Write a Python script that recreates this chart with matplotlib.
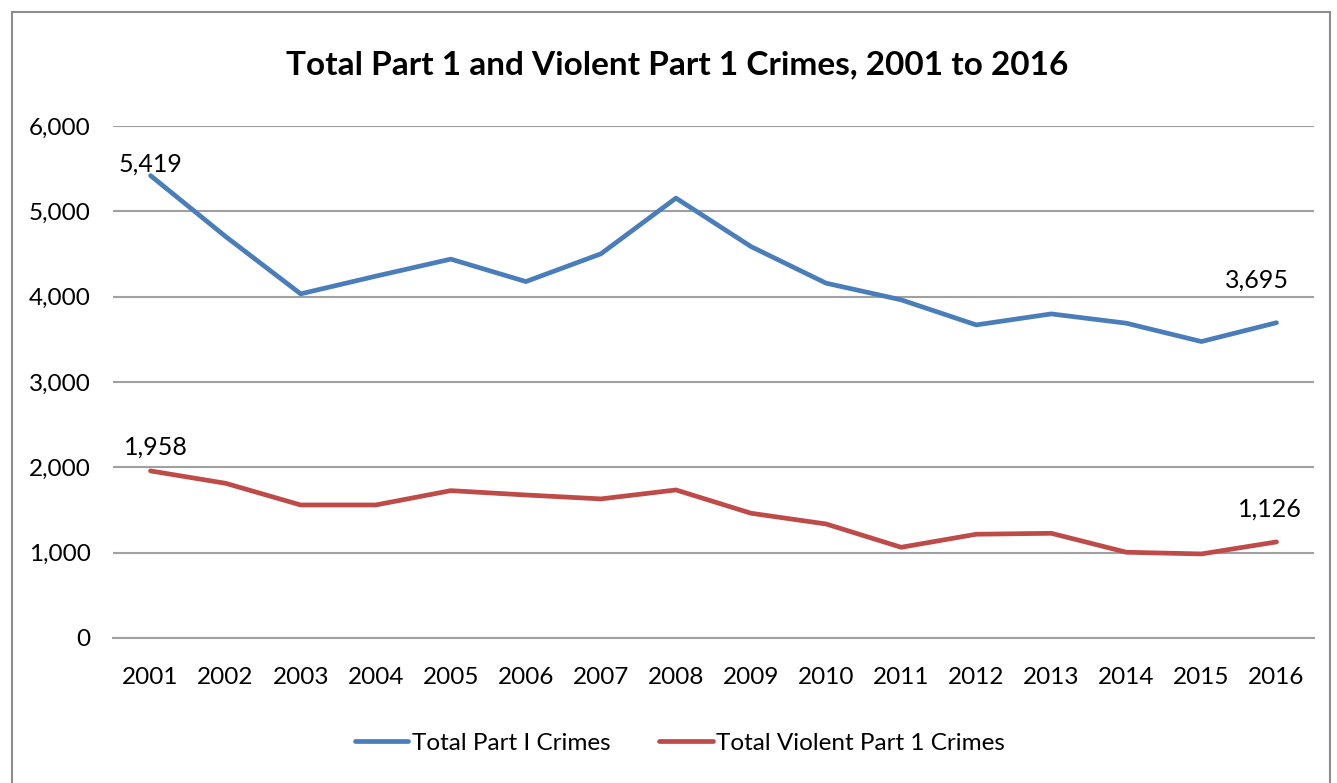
""" Total Part 1 and Violent Part 1 crimes, 2001 to 2016. """

import matplotlib
matplotlib.use("Agg")
import matplotlib.pyplot as plt
from matplotlib.patches import Rectangle
from matplotlib.ticker import FuncFormatter


""" DATA """
years = [str(y) for y in range(2001, 2017)]
total_part1 = [5419, 4705, 4033, 4240, 4440, 4177, 4502, 5155,
               4587, 4158, 3963, 3669, 3798, 3689, 3474, 3695]
violent_part1 = [1958, 1813, 1559, 1559, 1727, 1676, 1630, 1735,
                 1462, 1336, 1063, 1216, 1227, 1005, 985, 1126]
series_names = ["Total Part I Crimes", "Total Violent Part 1 Crimes"]


""" STYLE """
plt.rcParams['font.family'] = ['Lato', 'DejaVu Sans']
BLUE = "#4a7ebb"
RED = "#be4b48"
GRID = "#a0a0a0"

W, H = 1337, 783
fig = plt.figure(figsize=(W / 100, H / 100), dpi=100)

# Outer chart border
fig.patches.append(Rectangle((12 / W, -0.1), (1330 - 12) / W, 1.1 - 12 / H,
                             transform=fig.transFigure, fill=False,
                             edgecolor="#8c8c8c", linewidth=1.5))

# Plot area in pixel terms
left, right, top, bottom = 113, 1314, 126, 638
ax = fig.add_axes([left / W, 1 - bottom / H, (right - left) / W,
                   (bottom - top) / H])

x = list(range(len(years)))
ax.plot(x, total_part1, color=BLUE, linewidth=3.4,
        solid_capstyle="round", label=series_names[0], zorder=3)
ax.plot(x, violent_part1, color=RED, linewidth=3.4,
        solid_capstyle="round", label=series_names[1], zorder=3)

ax.set_xlim(-0.5, len(years) - 0.5)
ax.set_ylim(0, 6000)
ax.set_yticks(range(0, 6001, 1000))
ax.yaxis.set_major_formatter(FuncFormatter(lambda v, p: f"{int(v):,}"))
ax.set_xticks(x)
ax.set_xticklabels(years)
ax.tick_params(axis="both", length=0, labelsize=17.5, colors="black")
ax.tick_params(axis="y", pad=16)
ax.tick_params(axis="x", pad=21)

ax.grid(axis="y", color=GRID, linewidth=1.5)
ax.set_axisbelow(True)
for s in ("top", "right", "left"):
    ax.spines[s].set_visible(False)
ax.spines["bottom"].set_color(GRID)
ax.spines["bottom"].set_linewidth(1.5)

# Data labels on first and last points
for series, offs in ((total_part1, ((0, 3), (-14, 25))),
                     (violent_part1, ((4, 12), (-5, 18)))):
    for idx, off in zip((0, len(series) - 1), offs):
        ax.annotate(f"{series[idx]:,}", (idx, series[idx]),
                    xytext=off, textcoords="offset points",
                    ha="center", va="baseline", fontsize=18)

fig.text(677 / W, 1 - 65 / H,
         "Total Part 1 and Violent Part 1 Crimes, 2001 to 2016",
         ha="center", va="center", fontsize=24, fontweight="bold")

fig.legend(loc="center", bbox_to_anchor=(680 / W, 1 - 743 / H), ncol=2,
           frameon=False, fontsize=17.5, handlelength=2.2, handletextpad=0.15,
           columnspacing=2.0)

fig.savefig("out.png", dpi=100)
